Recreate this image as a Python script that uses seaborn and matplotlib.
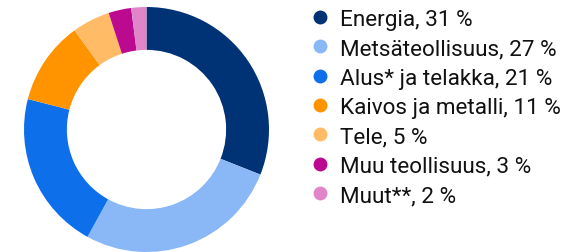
import matplotlib
matplotlib.use("Agg")
import matplotlib.pyplot as plt
import seaborn as sns
from matplotlib.lines import Line2D

# sektorit ja osuudet (%)
categories = ["Energia", "Metsäteollisuus", "Alus* ja telakka", "Kaivos ja metalli",
              "Tele", "Muu teollisuus", "Muut**"]
shares = [31, 27, 21, 11, 5, 3, 2]
colors = ["#003375", "#8AB8F7", "#0E6FEB", "#FF9300", "#FFBB66", "#BB0A8F", "#DF85C8"]

sns.set_theme(style="white")
plt.rcParams["font.family"] = ["Roboto", "DejaVu Sans"]

fig = plt.figure(figsize=(5.62, 2.53), dpi=100)
ax = fig.add_axes([24 / 562, 0 / 253, 245 / 562, 245 / 253])
ax.pie(shares, colors=colors, startangle=90, counterclock=False,
       radius=1, wedgeprops=dict(width=0.35, edgecolor="none"))
ax.set_xlim(-1, 1)
ax.set_ylim(-1, 1)
ax.set_aspect("equal")
ax.axis("off")

labels = [f"{c}, {s} %" for c, s in zip(categories, shares)]
handles = [Line2D([], [], marker="o", linestyle="none", markersize=10,
                  markerfacecolor=col, markeredgecolor="none") for col in colors]
fig.legend(handles, labels, loc="upper left", bbox_to_anchor=(300 / 562, 1 - 1 / 253),
           frameon=False, fontsize=16.2, labelspacing=0.37, handletextpad=0.36,
           handlelength=1.0, borderaxespad=0, labelcolor="#111111")

fig.savefig("out.png", dpi=100)
